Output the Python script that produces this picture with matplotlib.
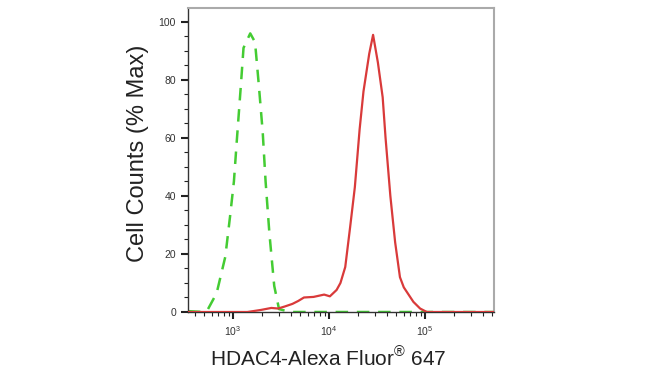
import matplotlib
matplotlib.use("Agg")
import matplotlib.pyplot as plt
import numpy as np
from matplotlib.ticker import LogLocator, MultipleLocator, LogFormatterMathtext

plt.rcParams['font.family'] = ['Liberation Sans', 'DejaVu Sans']
plt.rcParams['mathtext.fontset'] = 'custom'
plt.rcParams['mathtext.rm'] = 'Liberation Sans'

# isotype control (green, dashed) - log10 intensity vs % max
green_log = [2.53, 2.70, 2.74, 2.83, 2.92, 2.97, 3.01, 3.04, 3.08, 3.11, 3.18,
             3.23, 3.27, 3.31, 3.34, 3.38, 3.43, 3.48, 3.60, 4.50, 5.10, 5.72]
green_pct = [0.3, 0, 1, 6.5, 19, 33, 45, 59, 77, 91, 96,
             93, 78, 62, 45, 27, 9, 1, 0, 0, 0, 0]

# HDAC4 stained sample (red, solid)
red_log = [2.53, 3.15, 3.29, 3.40, 3.47, 3.54, 3.62, 3.68, 3.74, 3.84, 3.95, 4.01,
           4.08, 4.12, 4.17, 4.22, 4.27, 4.32, 4.36, 4.42, 4.46, 4.51, 4.56,
           4.59, 4.64, 4.69, 4.74, 4.78, 4.82, 4.88, 4.95, 5.02, 5.72]
red_pct = [0, 0, 0.7, 1.4, 1.2, 1.9, 2.8, 3.8, 5, 5.2, 6, 5.4,
           7.6, 10, 15.5, 29, 43, 63, 76, 89, 95.5, 86, 74,
           60, 40, 24, 12, 8.5, 6.5, 3.5, 1.2, 0, 0]

fig = plt.figure(figsize=(6.5, 3.84), dpi=100)
ax = fig.add_axes([0.289, 0.1875, 0.471, 0.792])

ax.plot(10 ** np.array(red_log), red_pct, color='#d93a3a', lw=1.6, zorder=3)
ax.plot(10 ** np.array(green_log), green_pct, color='#44cc33', lw=1.8,
        ls=(0, (5, 3.5)), zorder=2)

ax.set_xscale('log')
ax.set_xlim(10 ** 2.53, 10 ** 5.72)
ax.set_ylim(0, 104.8)

ax.xaxis.set_major_locator(LogLocator(base=10, numticks=10))
ax.xaxis.set_minor_locator(LogLocator(base=10, subs=np.arange(2, 10), numticks=20))
ax.xaxis.set_major_formatter(LogFormatterMathtext())
ax.yaxis.set_major_locator(MultipleLocator(20))
ax.yaxis.set_minor_locator(MultipleLocator(5))

ax.tick_params(axis='both', which='major', direction='out', length=5, width=1.5,
               color='#222222', labelsize=7.5, labelcolor='#333333')
ax.tick_params(axis='both', which='minor', direction='out', length=3, width=0.8,
               color='#222222')
ax.tick_params(axis='x', which='major', pad=4)

for s in ['left', 'bottom']:
    ax.spines[s].set_color('#333333')
    ax.spines[s].set_linewidth(1.0)
for s in ['top', 'right']:
    ax.spines[s].set_color('#aaaaaa')
    ax.spines[s].set_linewidth(1.5)

ax.set_xlabel(r'HDAC4-Alexa Fluor$^{\circledR}$ 647', fontsize=15,
              color='#222222', va='top')
ax.xaxis.set_label_coords(0.458, -0.112)
ax.set_ylabel('Cell Counts (% Max)', fontsize=17, color='#222222', va='center')
ax.yaxis.set_label_coords(-0.163, 0.523)

fig.savefig('out.png', dpi=100)
